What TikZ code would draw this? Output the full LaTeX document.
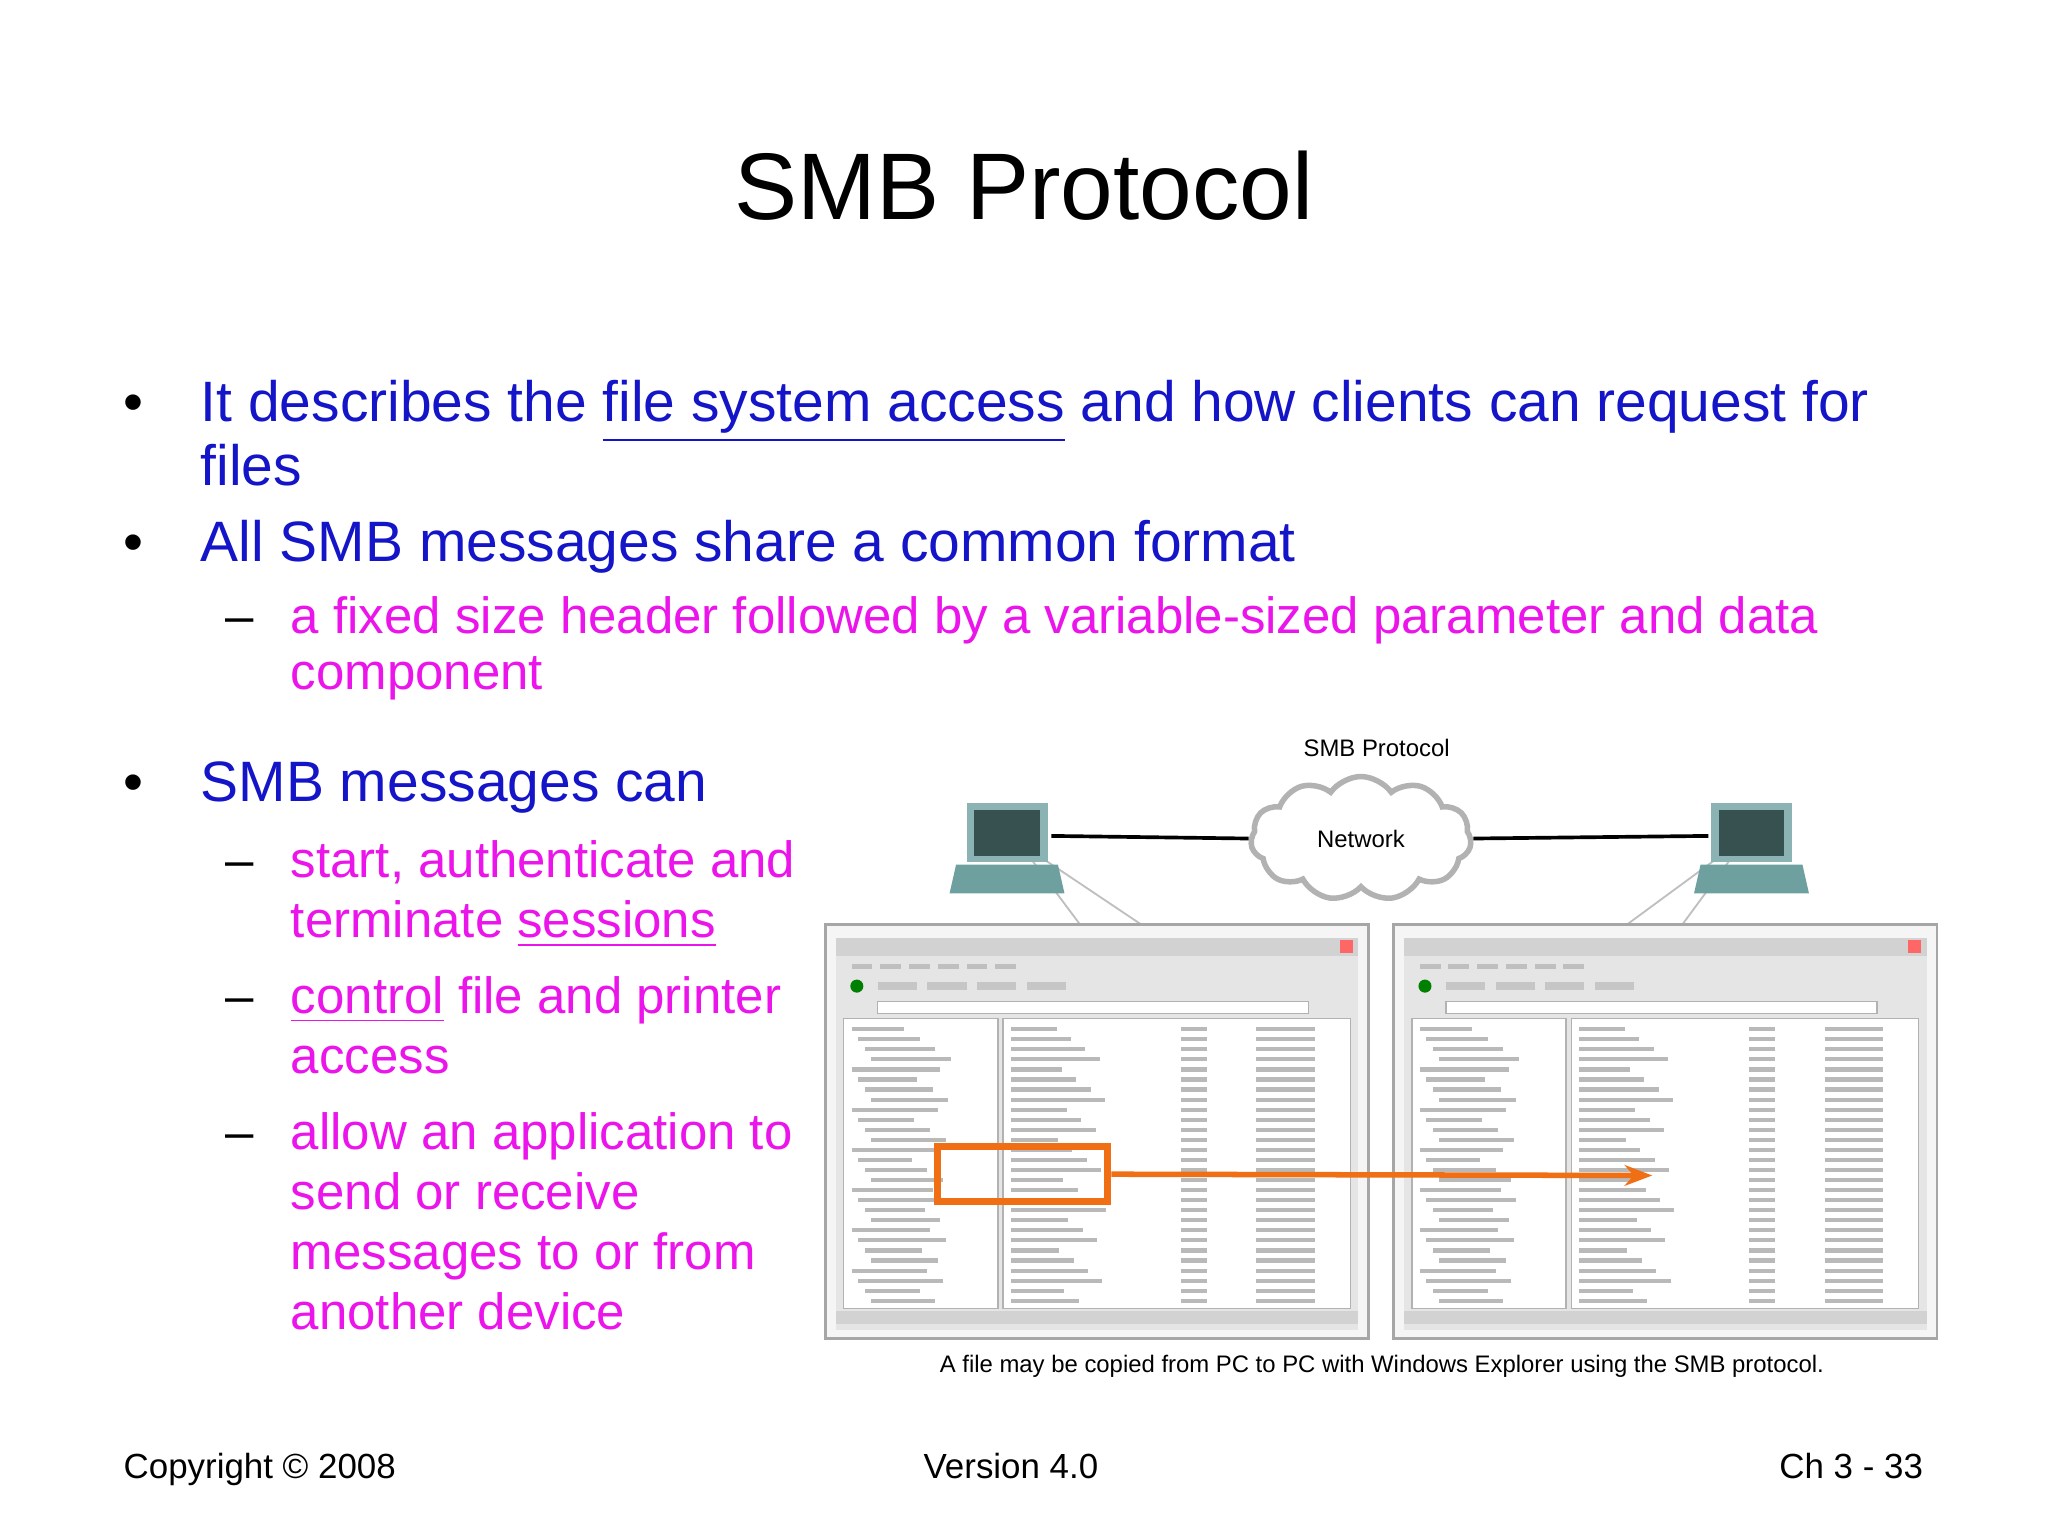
\documentclass[tikz,border=0pt]{standalone}
\usepackage{fontspec}
\setmainfont{Liberation Sans}
\usetikzlibrary{shapes.symbols,arrows.meta}
\definecolor{tblue}{RGB}{20,20,200}
\definecolor{tmag}{RGB}{235,20,235}
\definecolor{pcteal}{RGB}{110,160,160}
\definecolor{orng}{RGB}{240,110,20}
\tikzset{
 txt/.style={anchor=base west,inner sep=0pt},
 b1/.style={txt,text=tblue,font=\fontsize{12.4}{14}\selectfont},
 b2/.style={txt,text=tmag,font=\fontsize{11.1}{13}\selectfont},
 foot/.style={inner sep=0pt,anchor=base,font=\fontsize{7.6}{10}\selectfont},
 win/.style={draw=gray!70,fill=gray!8,line width=0.6pt},
 pane/.style={draw=gray!60,fill=white,line width=0.3pt},
 fake/.style={gray!55,line width=0.9pt},
 link/.style={line width=0.8pt},
}
\begin{document}
\begin{tikzpicture}[x=0.01cm,y=-0.01cm]
\useasboundingbox (0,0) rectangle (1568,1176);
\node[foot,font=\fontsize{20.6}{24}\selectfont] (title) at (784,168) {SMB Protocol};
% bullets
\foreach \yy in {323,430,614} \node[b1,text=black] at (94,\yy) {•};
\node[b1] (l1) at (153,323) {It describes the \underline{file system access} and how clients can request for};
\node[b1] (l2) at (153,372) {files};
\node[b1] (l3) at (153,430) {All SMB messages share a common format};
\foreach \yy in {485,672,776,880} \node[b2,text=black] at (172,\yy) {–};
\node[b2] (s1) at (222,485) {a fixed size header followed by a variable-sized parameter and data};
\node[b2] (s2) at (222,528) {component};
\node[b1] (l4) at (153,614) {SMB messages can};
\node[b2] at (222,672) {start, authenticate and};
\node[b2] at (222,718) {terminate \underline{sessions}};
\node[b2] at (222,776) {\underline{control} file and printer};
\node[b2] at (222,822) {access};
\node[b2] at (222,880) {allow an application to};
\node[b2] at (222,926) {send or receive};
\node[b2] at (222,972) {messages to or from};
\node[b2] at (222,1018) {another device};
% diagram
\node[foot,font=\fontsize{5.2}{6}\selectfont] (smbp) at (1054,579) {SMB Protocol};
\node[cloud,cloud puffs=11,cloud puff arc=110,aspect=1.8,draw=gray!60,line width=1.2pt,fill=white,minimum width=48pt,minimum height=27pt,inner sep=0pt,font=\fontsize{5.2}{6}\selectfont] (net) at (1042,642) {Network};
% callouts
\fill[white,draw=gray!50] (780,645) -- (880,712) -- (830,712) -- cycle;
\fill[white,draw=gray!50] (1338,640) -- (1285,712) -- (1240,712) -- cycle;
% computers
\foreach \cx/\nm in {770/pcl,1340/pcr}{
  \fill[pcteal!80] (\cx-30,615) rectangle (\cx+32,660);
  \fill[pcteal!50!black] (\cx-24,620) rectangle (\cx+26,655);
  \fill[pcteal] (\cx-38,662) -- (\cx+40,662) -- (\cx+45,684) -- (\cx-43,684) -- cycle;
  \coordinate (\nm) at (\cx+35,640);
}
\coordinate (pcr2) at (1308,640);
\draw[link] (pcl) -- (net.west);
\draw[link] (net.east) -- (pcr2);
% windows
\foreach \wx/\nm in {632/wl,1067/wr}{
  \draw[win] (\wx,708) rectangle (\wx+416,1025);
  \fill[gray!20] (\wx+8,718) rectangle (\wx+408,1018);
  \fill[gray!35] (\wx+8,718) rectangle (\wx+408,732);
  \fill[red!60] (\wx+394,720) rectangle (\wx+404,730);
  \foreach \k in {0,1,2,3,4,5} \fill[gray!50] (\wx+20+\k*22,738) rectangle (\wx+36+\k*22,742);
  \fill[green!50!black] (\wx+24,755) circle (5);
  \foreach \k in {0,1,2,3} \fill[gray!45] (\wx+40+\k*38,752) rectangle (\wx+70+\k*38,758);
  \draw[pane] (\wx+40,767) rectangle (\wx+370,776);
  \draw[pane] (\wx+14,780) rectangle (\wx+132,1002);
  \draw[pane] (\wx+136,780) rectangle (\wx+402,1002);
  \foreach \r in {0,...,27} {
    \pgfmathsetmacro{\xa}{\wx+20+mod(\r,4)*5}
    \pgfmathsetmacro{\la}{40+mod(\r*7,30)}
    \pgfmathsetmacro{\lb}{35+mod(\r*11,40)}
    \pgfmathsetmacro{\yr}{788+\r*7.7}
    \draw[fake] (\xa,\yr) -- ++(\la,0);
    \draw[fake] (\wx+142,\yr) -- ++(\lb,0);
    \draw[fake] (\wx+272,\yr) -- ++(20,0);
    \draw[fake] (\wx+330,\yr) -- ++(45,0);
  }
  \fill[gray!35] (\wx+8,1004) rectangle (\wx+408,1014);
  \coordinate (\nm) at (\wx,708);
}
\node[draw=orng,line width=1.6pt,minimum width=37pt,minimum height=12pt,inner sep=0pt] (sel) at (783,899) {};
\coordinate (dst) at (1265,900);
\draw[orng,line width=1.2pt,-{Stealth[length=6pt]}] (sel.east) -- (dst);
\node[foot,font=\fontsize{5.2}{6}\selectfont] (cap) at (1058,1051) {A file may be copied from PC to PC with Windows Explorer using the SMB protocol.};
% footer
\node[foot,anchor=base west] (f1) at (94,1132) {Copyright © 2008};
\node[foot] (f2) at (774,1132) {Version 4.0};
\node[foot,anchor=base east] (f3) at (1473,1132) {Ch 3 - 33};
\end{tikzpicture}
\end{document}
